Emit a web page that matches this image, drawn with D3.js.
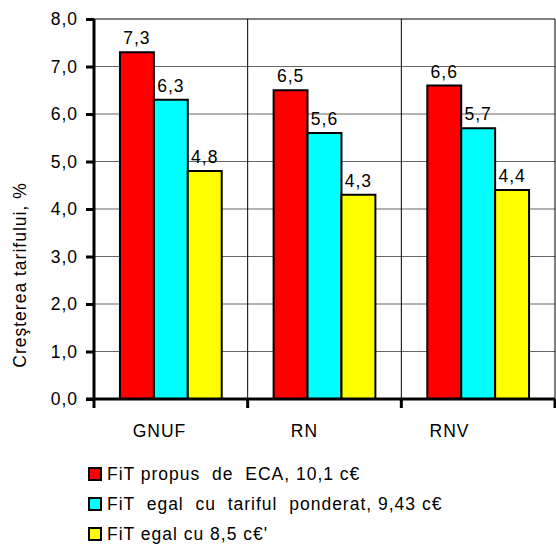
<!DOCTYPE html>
<html>
<head>
<meta charset="utf-8">
<script src="https://cdn.jsdelivr.net/npm/d3@7"></script>
<style>
  body { margin: 0; background: #fff; }
  text { font-family: "Liberation Sans", Arial, sans-serif; font-size: 17.5px; letter-spacing: 1px; fill: #000; }
</style>
</head>
<body>
<div id="chart"></div>
<script>
//Data
var categories = ["GNUF", "RN", "RNV"];
var seriesNames = ["FiT propus  de  ECA, 10,1 c€", "FiT  egal  cu  tariful  ponderat, 9,43 c€", "FiT egal cu 8,5 c€'"];
var seriesColors = ["#ff0000", "#00ffff", "#ffff00"];
var valuesECA = [7.3, 6.5, 6.6];
var valuesPonderat = [6.3, 5.6, 5.7];
var values85 = [4.8, 4.3, 4.4];
var yTicks = [0, 1, 2, 3, 4, 5, 6, 7, 8];
var yTitle = "Creşterea tarifului, %";

var series = [valuesECA, valuesPonderat, values85];

//Sizes
var width = 556, height = 547;
var margin = { top: 19, right: 1, bottom: 148, left: 94 };
var plotW = width - margin.left - margin.right;
var plotH = height - margin.top - margin.bottom;

var svg = d3.select("#chart").append("svg")
  .attr("width", width)
  .attr("height", height);

var g = svg.append("g")
  .attr("transform", "translate(" + margin.left + "," + margin.top + ")");

var x = d3.scaleBand().domain(categories).range([0, plotW]).paddingInner(0).paddingOuter(0);
var xInner = d3.scaleBand().domain(d3.range(series.length))
  .range([0, x.bandwidth()]).paddingOuter(0.765).paddingInner(0);
var y = d3.scaleLinear().domain([0, 8]).range([plotH, 0]);

//Grid lines
g.append("g").selectAll("line")
  .data(yTicks.slice(1))
  .enter().append("line")
  .attr("x1", 0).attr("x2", plotW)
  .attr("y1", d => y(d)).attr("y2", d => y(d))
  .attr("stroke", d => d === 8 ? "#000" : "#666")
  .attr("stroke-width", 1);

g.append("g").selectAll("line")
  .data(categories.slice(1).concat(["end"]))
  .enter().append("line")
  .attr("x1", (d, i) => x.step() * (i + 1)).attr("x2", (d, i) => x.step() * (i + 1))
  .attr("y1", 0).attr("y2", plotH)
  .attr("stroke", "#000")
  .attr("stroke-width", 1);

//Bars
var groups = g.selectAll(".grp")
  .data(categories)
  .enter().append("g")
  .attr("class", "grp")
  .attr("transform", d => "translate(" + x(d) + ",0)");

groups.selectAll("rect")
  .data((d, ci) => series.map((s, si) => ({ si: si, v: s[ci] })))
  .enter().append("rect")
  .attr("x", d => xInner(d.si))
  .attr("width", xInner.bandwidth())
  .attr("y", d => y(d.v))
  .attr("height", d => plotH - y(d.v))
  .attr("fill", d => seriesColors[d.si])
  .attr("stroke", "#000")
  .attr("stroke-width", 2);

groups.selectAll(".lbl")
  .data((d, ci) => series.map((s, si) => ({ si: si, v: s[ci] })))
  .enter().append("text")
  .attr("class", "lbl")
  .attr("x", d => xInner(d.si) + xInner.bandwidth() / 2)
  .attr("y", d => y(d.v) - 8)
  .attr("text-anchor", "middle")
  .text(d => d.v.toFixed(1).replace(".", ","));

//Y axis
var yAxis = g.append("g")
  .call(d3.axisLeft(y).tickValues(yTicks).tickSize(8).tickPadding(8)
    .tickFormat(d => d.toFixed(1).replace(".", ",")));
yAxis.select(".domain").attr("stroke", "#000").attr("stroke-width", 3).attr("d", "M0,0V" + plotH);
yAxis.selectAll(".tick line").attr("stroke", "#000").attr("stroke-width", 3);
yAxis.selectAll("text").attr("fill", "#000").style("font-size", "17.5px")
  .style("font-family", "'Liberation Sans', Arial, sans-serif");

//X axis
var xAxisG = g.append("g").attr("transform", "translate(0," + plotH + ")");
xAxisG.append("line")
  .attr("x1", -8).attr("x2", plotW)
  .attr("y1", 0).attr("y2", 0)
  .attr("stroke", "#000").attr("stroke-width", 3);
xAxisG.selectAll(".xt")
  .data(d3.range(categories.length + 1))
  .enter().append("line")
  .attr("class", "xt")
  .attr("x1", d => x.step() * d).attr("x2", d => x.step() * d)
  .attr("y1", 0).attr("y2", 9)
  .attr("stroke", "#000").attr("stroke-width", 3);

//category labels sit a bit left of the band centres, as in the original
var xLab = d3.scaleBand().domain(categories).range([-7, plotW - 33]);
xAxisG.selectAll(".xl")
  .data(categories)
  .enter().append("text")
  .attr("class", "xl")
  .attr("x", d => xLab(d) + xLab.bandwidth() / 2)
  .attr("y", 38)
  .attr("text-anchor", "middle")
  .text(d => d);

//Y title
svg.append("text")
  .attr("transform", "translate(26,275) rotate(-90)")
  .attr("text-anchor", "middle")
  .text(yTitle);

//Legend
var legend = svg.append("g").attr("transform", "translate(89,480)");
var li = legend.selectAll("g")
  .data(seriesNames)
  .enter().append("g")
  .attr("transform", (d, i) => "translate(0," + i * 30 + ")");
li.append("rect")
  .attr("x", 0).attr("y", -12)
  .attr("width", 12).attr("height", 12)
  .attr("fill", (d, i) => seriesColors[i])
  .attr("stroke", "#000").attr("stroke-width", 2);
li.append("text")
  .attr("x", 18).attr("y", 0)
  .style("white-space", "pre")
  .attr("xml:space", "preserve")
  .text(d => d);
</script>
</body>
</html>
